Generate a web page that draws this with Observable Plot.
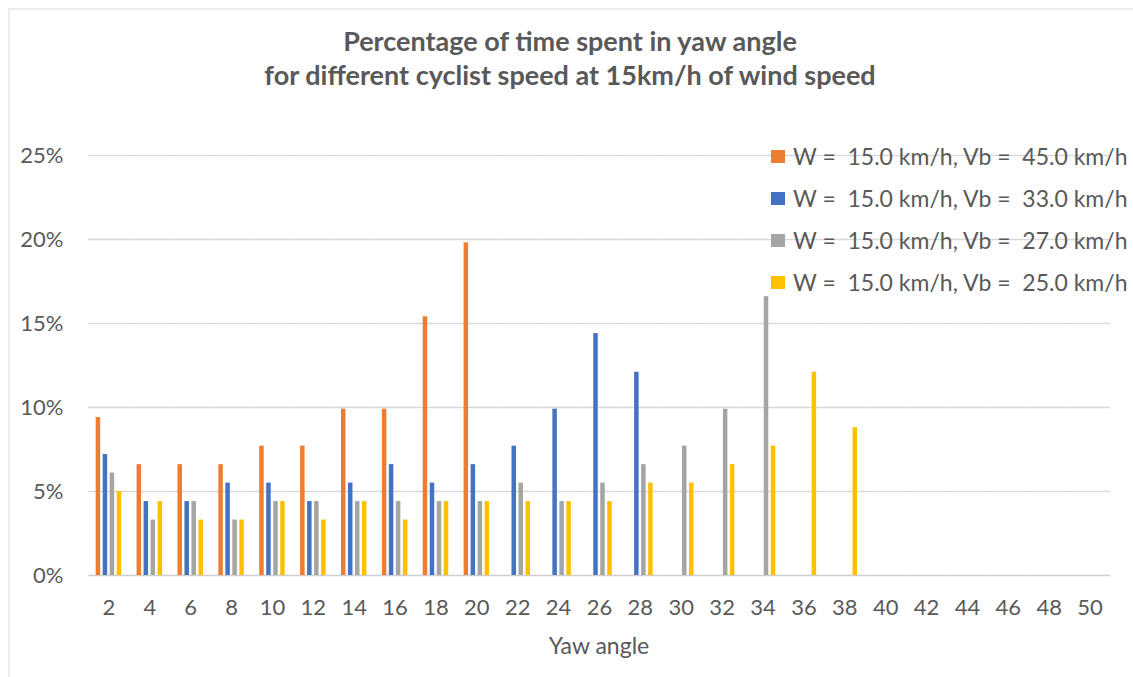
<!DOCTYPE html>
<html>
<head>
<meta charset="utf-8">
<script src="https://cdn.jsdelivr.net/npm/d3@7"></script>
<script src="https://cdn.jsdelivr.net/npm/@observablehq/plot@0.6"></script>
<style>
  body { margin: 0; background: #fff; }
  #chart { position: relative; width: 1133px; height: 677px; overflow: hidden; font-family: Lato, "Open Sans", sans-serif; color: #595959; }
  #frame { position: absolute; left: 8px; top: 8px; width: 1200px; height: 720px; border-left: 2px solid #ececec; border-top: 2px solid #ececec; }
  #title { position: absolute; left: 70px; width: 1000px; top: 24px; text-align: center; font-weight: bold; font-size: 27px; line-height: 34px; }
  #plot { position: absolute; left: 0; top: 0; }
  #legend { position: absolute; left: 771px; top: 135px; }
  .item { display: flex; align-items: center; height: 42px; font-size: 23px; white-space: pre; }
  .sw { width: 14px; height: 13px; margin-right: 8px; }
</style>
</head>
<body>
<div id="chart">
  <div id="frame"></div>
  <div id="plot"></div>
  <div id="title">Percentage of time spent in yaw angle<br>for different cyclist speed at 15km/h of wind speed</div>
  <div id="legend"></div>
</div>
<script>
// Yaw angle categories (degrees)
const angles = [2, 4, 6, 8, 10, 12, 14, 16, 18, 20, 22, 24, 26, 28, 30, 32, 34, 36, 38, 40, 42, 44, 46, 48, 50];

// Share of time (%) spent at each yaw angle, one array per cyclist speed
const vb45 = [9.4, 6.6, 6.6, 6.6, 7.7, 7.7, 9.9, 9.9, 15.4, 19.8, 0, 0, 0, 0, 0, 0, 0, 0, 0, 0, 0, 0, 0, 0, 0];
const vb33 = [7.2, 4.4, 4.4, 5.5, 5.5, 4.4, 5.5, 6.6, 5.5, 6.6, 7.7, 9.9, 14.4, 12.1, 0, 0, 0, 0, 0, 0, 0, 0, 0, 0, 0];
const vb27 = [6.1, 3.3, 4.4, 3.3, 4.4, 4.4, 4.4, 4.4, 4.4, 4.4, 5.5, 4.4, 5.5, 6.6, 7.7, 9.9, 16.6, 0, 0, 0, 0, 0, 0, 0, 0];
const vb25 = [5.0, 4.4, 3.3, 3.3, 4.4, 3.3, 4.4, 3.3, 4.4, 4.4, 4.4, 4.4, 4.4, 5.5, 5.5, 6.6, 7.7, 12.1, 8.8, 0, 0, 0, 0, 0, 0];

const seriesNames = [
  "W =  15.0 km/h, Vb =  45.0 km/h",
  "W =  15.0 km/h, Vb =  33.0 km/h",
  "W =  15.0 km/h, Vb =  27.0 km/h",
  "W =  15.0 km/h, Vb =  25.0 km/h"
];
const seriesValues = [vb45, vb33, vb27, vb25];
const seriesColors = ["#ED7D31", "#4472C4", "#A5A5A5", "#FFC000"];
const yTicks = [0, 5, 10, 15, 20, 25];

// Long-form table for the grouped bars
const data = seriesNames.flatMap((name, k) =>
  angles.map((angle, i) => ({angle, series: name, value: seriesValues[k][i]}))
);

// Facets touch each other so that gridlines run unbroken across the plot;
// the gap between bar groups comes from the outer padding of the inner band scale.
const chart = Plot.plot({
  width: 1133,
  height: 677,
  marginTop: 155,
  marginBottom: 102,
  marginLeft: 88,
  marginRight: 23,
  style: {fontFamily: "Lato, 'Open Sans', sans-serif", fontSize: "22px", color: "#595959", background: "transparent", overflow: "visible"},
  fx: {domain: angles, padding: 0, round: false},
  x: {domain: seriesNames, paddingInner: 0.357, paddingOuter: 1.098, round: false},
  y: {domain: [0, 25]},
  color: {domain: seriesNames, range: seriesColors},
  marks: [
    Plot.gridY(yTicks.slice(1), {stroke: "#d9d9d9", strokeOpacity: 1, strokeWidth: 1.3}),
    Plot.ruleY([0], {stroke: "#cfcfcf", strokeWidth: 1.5}),
    Plot.axisY(yTicks, {tickSize: 0, tickPadding: 25, tickFormat: d => d + "%", label: null, fill: "#595959", fontSize: 22}),
    Plot.axisX({ticks: [], label: null}),
    Plot.axisFx({anchor: "bottom", tickSize: 0, tickPadding: 24, fontSize: 22, fill: "#595959", label: null}),
    Plot.barY(data, {fx: "angle", x: "series", y: "value", fill: "series"})
  ]
});
document.getElementById("plot").appendChild(chart);

// Axis title under the yaw angle labels, centred on the plot frame
const axisTitle = document.createElement("div");
axisTitle.textContent = "Yaw angle";
Object.assign(axisTitle.style, {position: "absolute", left: "88px", width: "1022px", top: "630px", textAlign: "center", fontSize: "23px", lineHeight: "30px"});
document.getElementById("chart").appendChild(axisTitle);

// Legend drawn over the upper right of the plot
const legend = document.getElementById("legend");
seriesNames.forEach((name, k) => {
  const row = document.createElement("div");
  row.className = "item";
  const sw = document.createElement("span");
  sw.className = "sw";
  sw.style.background = seriesColors[k];
  const label = document.createElement("span");
  label.textContent = name;
  row.appendChild(sw);
  row.appendChild(label);
  legend.appendChild(row);
});
</script>
</body>
</html>
